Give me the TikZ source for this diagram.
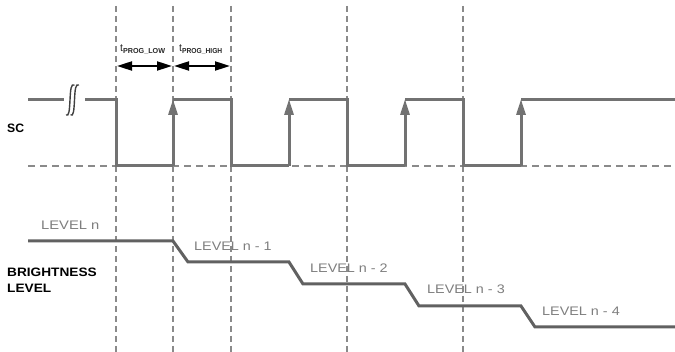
\documentclass[tikz,border=0pt]{standalone}
\usepackage{fontspec}
\setmainfont{Liberation Sans}
\usepackage{graphicx}
\usetikzlibrary{arrows.meta}
\definecolor{sigc}{HTML}{727272}
\definecolor{dshc}{HTML}{8A8A8A}
\definecolor{lblc}{HTML}{7E7E7E}
\begin{document}
\begin{tikzpicture}[x=1pt,y=-1pt,
  sigline/.style={draw=sigc,line width=3pt,line join=miter},
  guide/.style={draw=dshc,line width=1.3pt,dash pattern=on 6pt off 4pt},
  baseguide/.style={draw=dshc,line width=1.3pt,dash pattern=on 7pt off 5pt},
  riseedge/.style={draw=sigc,line width=3pt,-{Triangle[length=16pt,width=9pt]}},
  lvlline/.style={draw=sigc!85!black,line width=3pt,line join=miter},
  lvltext/.style={text=lblc,font=\fontsize{12.4}{14}\selectfont,inner sep=0pt,anchor=base west},
  boldtext/.style={text=black,font=\fontsize{12.2}{14}\selectfont\bfseries,inner sep=0pt,anchor=base west,align=left},
  tprog/.style={draw=black,line width=2pt,{Triangle[length=15pt,width=9pt]}-{Triangle[length=15pt,width=9pt]}},
  tlabel/.style={text=black!85,inner sep=0pt,anchor=base west}
]
\useasboundingbox (0,0) rectangle (675,352);

% vertical dashed guides
\foreach \n/\x in {a/116,b/173,c/231,d/347,e/463}{
  \coordinate (g\n top) at (\x,6);
  \coordinate (g\n bot) at (\x,352);
  \draw[guide] (g\n top) -- (g\n bot);
}

% low baseline (dashed)
\coordinate (basel) at (28,166);
\coordinate (baser) at (675,166);
\draw[baseguide] (basel) -- (baser);

% SC waveform
\coordinate (s0) at (28,100);
\coordinate (s1) at (64,100);
\coordinate (s2) at (85,100);
\draw[sigline] (s0) -- (s1);
\draw[sigline] (s2) -- (116,100) -- (116,166) -- (173,166);
\draw[riseedge] (173,166) -- (173,99);
\draw[sigline] (173,100) -- (231,100) -- (231,166) -- (289,166);
\draw[riseedge] (289,166) -- (289,99);
\draw[sigline] (289,100) -- (347,100) -- (347,166) -- (405,166);
\draw[riseedge] (405,166) -- (405,99);
\draw[sigline] (405,100) -- (463,100) -- (463,166) -- (521,166);
\draw[riseedge] (521,166) -- (521,99);
\draw[sigline] (521,100) -- (675,100);

% break symbol
\foreach \dx in {0,4.5}{
  \draw[black!75,line width=1.4pt] (66+\dx,115) .. controls (69+\dx,117) and (69.5+\dx,110) .. (70+\dx,100)
     .. controls (70.5+\dx,90) and (71+\dx,83) .. (74.5+\dx,85);
}

% SC label
\node[boldtext] (sc) at (7,133) {SC};

% tPROG arrows
\coordinate (pa) at (117,66);
\coordinate (pb) at (172,66);
\coordinate (pc) at (174,66);
\coordinate (pd) at (230,66);
\draw[tprog] (pa) -- (pb);
\draw[tprog] (pc) -- (pd);
\node[tlabel] (tlow) at (120,52) {\fontsize{10.5}{11}\selectfont t\raisebox{-1.8pt}{\fontsize{7.2}{8}\selectfont\bfseries PROG\_LOW}};
\node[tlabel] (thigh) at (179,52) {\fontsize{10.5}{11}\selectfont t\raisebox{-1.8pt}{\fontsize{7.2}{8}\selectfont\bfseries\scalebox{0.93}[1]{PROG\_HIGH}}};

% brightness staircase
\draw[lvlline] (28,241) -- (173,241) -- (188,262) -- (289,262) -- (303,284)
  -- (405,284) -- (419,306) -- (521,306) -- (535,327) -- (675,327);

\node[lvltext] (l0) at (41,230) {\scalebox{1.19}[1]{LEVEL n}};
\node[lvltext] (l1) at (194,251) {\scalebox{1.16}[1]{LEVEL n - 1}};
\node[lvltext] (l2) at (310,273) {\scalebox{1.16}[1]{LEVEL n - 2}};
\node[lvltext] (l3) at (427,294) {\scalebox{1.16}[1]{LEVEL n - 3}};
\node[lvltext] (l4) at (542,316) {\scalebox{1.16}[1]{LEVEL n - 4}};

\node[boldtext] (bl1) at (7,277) {\scalebox{1.12}[1]{BRIGHTNESS}};
\node[boldtext] (bl2) at (7,293) {\scalebox{1.12}[1]{LEVEL}};
\end{tikzpicture}
\end{document}
